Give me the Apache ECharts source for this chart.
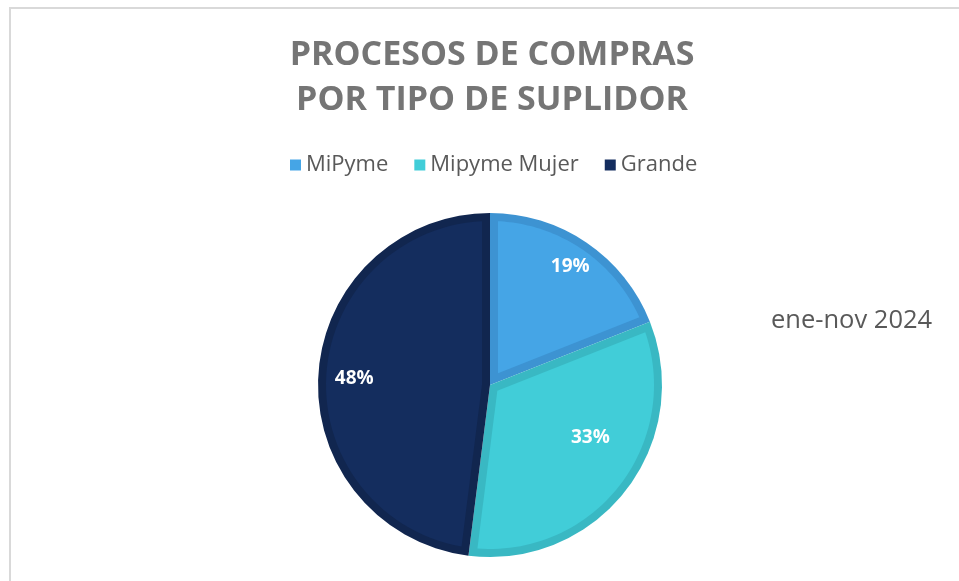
<!DOCTYPE html>
<html>
<head>
<meta charset="utf-8">
<script src="https://cdn.jsdelivr.net/npm/echarts@6/dist/echarts.min.js"></script>
<style>
  html, body { margin: 0; padding: 0; background: #fff; }
  #frame { position: absolute; left: 9px; top: 7px; right: -10px; bottom: -10px;
           border-top: 2px solid #d9d9d9; border-left: 2px solid #d9d9d9; }
  #main { position: absolute; left: 0; top: 0; width: 959px; height: 581px; }
</style>
</head>
<body>
<div id="frame"></div>
<div id="main"></div>
<script>
// datos del grafico
const categories = ['MiPyme', 'Mipyme Mujer', 'Grande']
const shares = [19, 33, 48]
const periodo = 'ene-nov 2024'

// colores: relleno y borde interior de cada rebanada
const fillColors = ['#45a5e6', '#41cdd8', '#142d5e']
const edgeColors = ['#3d93d2', '#39b8c3', '#11264f']

const CX = 490, CY = 385, R = 172, INSET = 8
// posicion de etiquetas (fraccion del radio y giro en grados)
const labelDist = [0.83, 0.66, 0.79]
const labelTurn = [0, -10, -1]

const chart = echarts.init(document.getElementById('main'), null, { renderer: 'canvas' })

function pt (ang, r) {
  return [CX + r * Math.sin(ang), CY - r * Math.cos(ang)]
}

// dibuja la parte clara de cada rebanada, dejando el borde oscuro visible
function renderInner (params, api) {
  const i = params.dataIndex
  const total = shares.reduce((a, b) => a + b, 0)
  let a0 = 0
  for (let k = 0; k < i; k++) a0 += shares[k] / total * Math.PI * 2
  const span = shares[i] / total * Math.PI * 2
  const a1 = a0 + span
  const mid = (a0 + a1) / 2
  const ri = R - INSET
  const t = Math.sqrt(ri * ri - INSET * INSET)
  const da = Math.atan(INSET / t)
  const apex = pt(mid, INSET / Math.sin(span / 2))
  const pts = [apex]
  const n = 60
  for (let s = 0; s <= n; s++) {
    const a = (a0 + da) + (span - 2 * da) * s / n
    pts.push(pt(a, ri))
  }
  const lp = pt(mid + labelTurn[i] * Math.PI / 180, R * labelDist[i])
  return {
    type: 'group',
    children: [
      { type: 'polygon', shape: { points: pts }, style: { fill: fillColors[i] } },
      {
        type: 'text',
        x: lp[0],
        y: lp[1],
        style: {
          text: shares[i] + '%',
          fill: '#ffffff',
          font: 'bold 19px "Open Sans"',
          align: 'center',
          verticalAlign: 'middle'
        }
      }
    ]
  }
}

chart.setOption({
  animation: false,
  title: [
    {
      text: 'PROCESOS DE COMPRAS\nPOR TIPO DE SUPLIDOR',
      left: 487,
      top: 28,
      textAlign: 'center',
      textStyle: {
        fontFamily: 'Open Sans',
        fontWeight: 'bold',
        fontSize: 34,
        lineHeight: 45,
        color: '#757575'
      }
    },
    {
      text: periodo,
      left: 766,
      top: 303,
      textStyle: {
        fontFamily: 'Open Sans',
        fontWeight: 'normal',
        fontSize: 25.5,
        color: '#595959'
      }
    }
  ],
  legend: {
    left: 285,
    top: 149,
    icon: 'rect',
    itemWidth: 11,
    itemHeight: 11,
    itemGap: 26,
    textStyle: { fontFamily: 'Open Sans', fontSize: 22, color: '#595959' },
    data: categories.map((n, i) => ({ name: n, itemStyle: { color: fillColors[i] } }))
  },
  series: [
    {
      type: 'pie',
      center: [CX, CY],
      radius: R,
      startAngle: 90,
      clockwise: true,
      silent: true,
      z: 1,
      label: { show: false },
      labelLine: { show: false },
      itemStyle: { borderWidth: 0 },
      data: categories.map((n, i) => ({ name: n, value: shares[i], itemStyle: { color: edgeColors[i] } }))
    },
    {
      type: 'custom',
      name: 'interior',
      coordinateSystem: 'none',
      z: 5,
      renderItem: renderInner,
      data: shares.map((v, i) => ({ value: [i, v] }))
    }
  ]
})
</script>
</body>
</html>
